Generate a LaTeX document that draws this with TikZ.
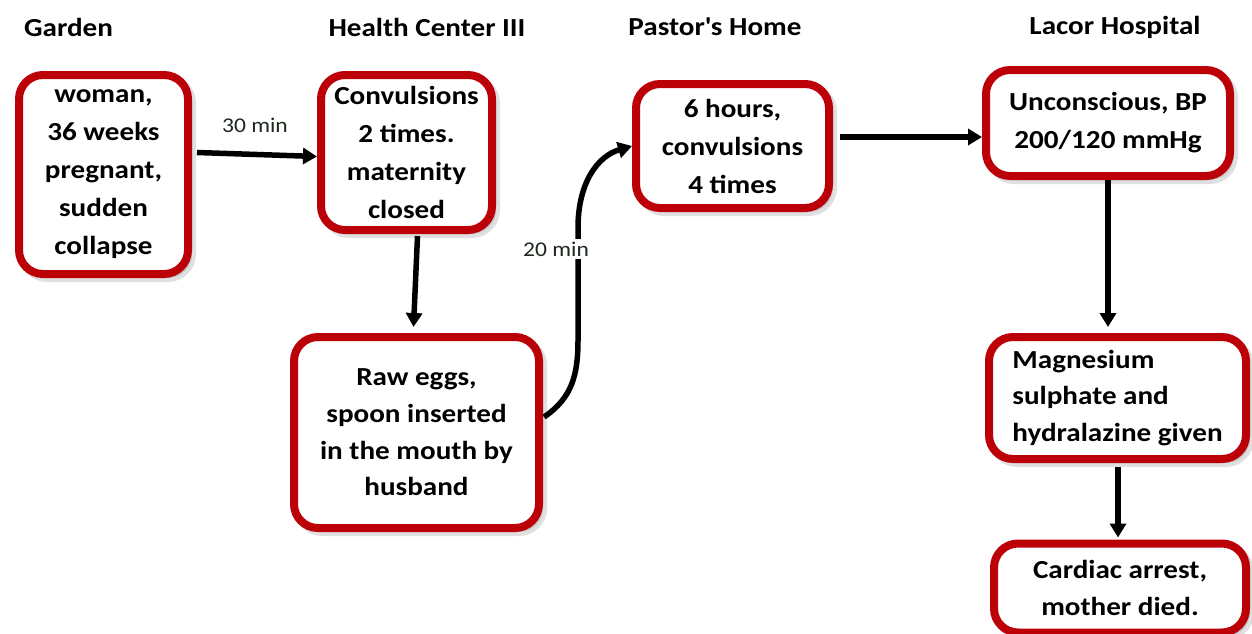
\documentclass[tikz,border=0pt]{standalone}
\usepackage{fontspec}
\setmainfont{Carlito}[FakeStretch=1.12]
\usetikzlibrary{arrows.meta,shadows}
\definecolor{boxred}{RGB}{188,0,8}
\definecolor{lblcol}{RGB}{30,40,30}
\begin{document}
\begin{tikzpicture}[x=0.5pt,y=-0.5pt,
  box/.style={draw=boxred, line width=4pt, fill=white, rounded corners=12pt,
    align=center, inner sep=0pt,
    font=\fontsize{13}{19}\selectfont\bfseries,
    drop shadow={shadow xshift=2pt, shadow yshift=-2pt, fill=black, draw=black,
      line width=4pt, opacity=0.12}},
  tight/.style={font=\fontsize{13}{18.3}\selectfont\bfseries},
  head/.style={font=\fontsize{13}{16}\selectfont\bfseries, inner sep=0pt},
  lbl/.style={font=\fontsize{10.5}{12}\selectfont, text=lblcol, inner sep=1.5pt},
  arr/.style={line width=2.75pt, -{Triangle[length=7pt,width=8pt]}}]
\useasboundingbox (0,0) rectangle (1252,633);

% column headings
\node[head] (hGarden) at (68.5,27) {Garden};
\node[head] (hHealth) at (427,27) {Health Center III};
\node[head] (hPastor) at (715,27) {Pastor\textquotesingle s Home};
\node[head] (hLacor)  at (1115,27) {Lacor Hospital};

% events
\node[box, minimum width=84.5pt, minimum height=99.5pt] (garden) at (103.5,174.5)
  {woman,\\36 weeks\\pregnant,\\sudden\\collapse};
\node[box, minimum width=85.5pt, minimum height=77.5pt] (hc) at (406.5,152.5)
  {Convulsions\\2 times.\\maternity\\closed};
\node[box, tight, minimum width=122.5pt, minimum height=95.5pt] (eggs) at (416.5,432.5)
  {Raw eggs,\\spoon inserted\\in the mouth by\\husband};
\node[box, minimum width=96.5pt, minimum height=62pt] (pastor) at (732.5,146)
  {6 hours,\\convulsions\\4 times};
\node[box, minimum width=122pt, minimum height=53pt] (lacor) at (1108,123)
  {Unconscious, BP\\200/120 mmHg};
\node[box, tight, align=left, minimum width=128.5pt, minimum height=61pt] (mag) at (1117.5,398)
  {Magnesium\\sulphate and\\hydralazine given};
\node[box, tight, minimum width=126pt, minimum height=44.5pt] (cardiac) at (1120,588)
  {Cardiac arrest,\\mother died.};

% transitions
\draw[arr] ([xshift=2.5pt,yshift=11pt]garden.east) -- ([yshift=-2pt]hc.west);
\node[lbl] (l30) at (255,125) {30 min};

\draw[arr] ([xshift=5.5pt,yshift=-1pt]hc.south) -- ([xshift=-1.5pt,yshift=3pt]eggs.north);

\draw[arr]
  ([xshift=0.5pt,yshift=7.75pt]eggs.east)
  .. controls (572,398) and (578,375) .. (578,340)
  -- (578,228)
  .. controls (578,182) and (598,156) .. (pastor.west);
\node[lbl, fill=white] (l20) at (556,249) {20 min};

\draw[arr] ([xshift=3.5pt,yshift=4.5pt]pastor.east) -- ([yshift=-7pt]lacor.west);
\draw[arr] (lacor.south) -- ([xshift=-4.75pt,yshift=3pt]mag.north);
\draw[arr] ([xshift=0.25pt,yshift=-2pt]mag.south) -- ([xshift=-1pt,yshift=1pt]cardiac.north);
\end{tikzpicture}
\end{document}
